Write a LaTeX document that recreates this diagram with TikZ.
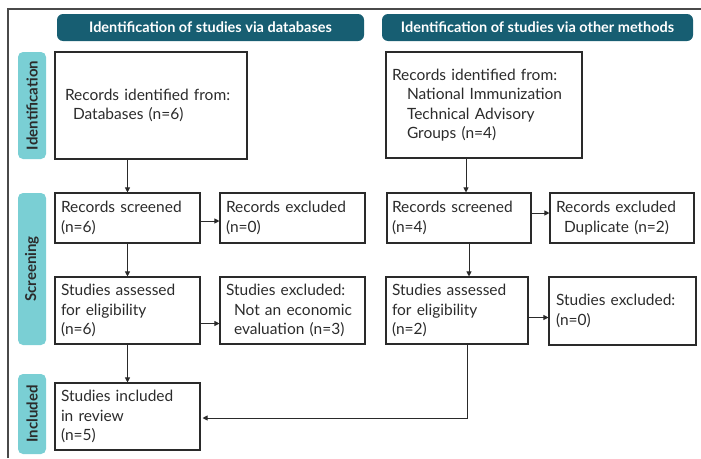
\documentclass[tikz,border=0pt]{standalone}
\usepackage{fontspec}
\setmainfont{Lato}
\usetikzlibrary{arrows.meta}
\definecolor{hdr}{HTML}{175E72}
\definecolor{side}{HTML}{7ACFD4}
\definecolor{ln}{HTML}{2A2A2A}
\definecolor{txt}{HTML}{2B2B2B}
\begin{document}
\begin{tikzpicture}[x=1pt,y=-1pt,
  pbox/.style={draw=ln, line width=1.1pt, align=left, text=txt,
    font=\fontsize{15.5}{19.5}\selectfont, inner ysep=0pt},
  hdrbox/.style={fill=hdr, rounded corners=6pt, text=white,
    font=\bfseries\fontsize{14.5}{16}\selectfont, minimum height=27pt},
  sidebox/.style={fill=side, rounded corners=5pt, text=txt, rotate=90,
    font=\bfseries\fontsize{15}{16}\selectfont, minimum height=28pt},
  arr/.style={draw=ln, line width=1pt, -{Triangle[length=5pt,width=5pt]}},
  conn/.style={draw=ln, line width=1pt}]
\useasboundingbox (0,0) rectangle (701,458);
\draw[draw=ln!85, line width=1.2pt] (8,458) -- (8,9) -- (701,9);

% headers
\node[hdrbox, minimum width=307pt] (h1) at (210.5,27.5) {Identification of studies via databases};
\node[hdrbox, minimum width=311pt] (h2) at (537.5,27.5) {Identification of studies via other methods};

% side labels
\node[sidebox, minimum width=107pt] (s1) at (32,105.5) {Identification};
\node[sidebox, minimum width=152pt] (s2) at (32,269) {Screening};
\node[sidebox, minimum width=80pt] (s3) at (32,414) {Included};

% left column
\node[pbox, minimum width=192pt, minimum height=107pt, text width=172pt, inner xsep=10pt] (A) at (151,105.5)
  {Records identified from:\\\hspace*{8pt}Databases (n=6)};
\node[pbox, minimum width=145pt, minimum height=50pt, text width=133pt, inner xsep=6pt] (B) at (127.5,218)
  {Records screened\\(n=6)};
\node[pbox, minimum width=145pt, minimum height=50pt, text width=133pt, inner xsep=6pt] (C) at (292.5,218)
  {Records excluded\\(n=0)};
\node[pbox, minimum width=145pt, minimum height=67pt, text width=133pt, inner xsep=6pt] (D) at (127.5,310.5)
  {Studies assessed\\for eligibility\\(n=6)};
\node[pbox, minimum width=145pt, minimum height=67pt, text width=133pt, inner xsep=6pt] (E) at (292.5,310.5)
  {Studies excluded:\\\hspace*{8pt}Not an economic\\\hspace*{8pt}evaluation (n=3)};
\node[pbox, minimum width=145pt, minimum height=67pt, text width=133pt, inner xsep=6pt] (F) at (127.5,416.5)
  {Studies included\\in review\\(n=5)};

% right column
\node[pbox, minimum width=196pt, minimum height=106pt, text width=184pt, inner xsep=6pt] (G) at (484,105)
  {Records identified from:\\\hspace*{15pt}National Immunization\\\hspace*{15pt}Technical Advisory\\\hspace*{15pt}Groups (n=4)};
\node[pbox, minimum width=144pt, minimum height=50pt, text width=134pt, inner xsep=5pt] (H) at (459,218)
  {Records screened\\(n=4)};
\node[pbox, minimum width=144pt, minimum height=50pt, text width=132pt, inner xsep=6pt] (I) at (622,218)
  {Records excluded\\\hspace*{8pt}Duplicate (n=2)};
\node[pbox, minimum width=142pt, minimum height=67pt, text width=130pt, inner xsep=6pt] (J) at (457,310.5)
  {Studies assessed\\for eligibility\\(n=2)};
\node[pbox, minimum width=147pt, minimum height=68pt, text width=133pt, inner xsep=7pt] (K) at (622.5,311)
  {Studies excluded:\\(n=0)};

% connectors
\draw[arr] (B.north |- A.south) -- (B.north);
\draw[arr] ([yshift=-3pt]B.east) -- ([yshift=-3pt]B.east -| C.west);
\draw[arr] (B.south) -- (D.north);
\draw[arr] ([yshift=-13pt]D.east) -- ([yshift=-13pt]D.east -| E.west);
\draw[arr] (D.south) -- (F.north);

\draw[arr] ([xshift=7pt]H.north |- G.south) -- ([xshift=7pt]H.north);
\draw[arr] ([yshift=5pt]H.east) -- ([yshift=5pt]H.east -| I.west);
\draw[arr] ([xshift=10pt]H.south) -- ([xshift=10pt]H.south |- J.north);
\draw[arr] ([yshift=-7pt]J.east) -- ([yshift=-7pt]J.east -| K.west);
\draw[arr] ([xshift=10pt]J.south) |- ([xshift=2pt,yshift=-1.5pt]F.east);
\end{tikzpicture}
\end{document}
